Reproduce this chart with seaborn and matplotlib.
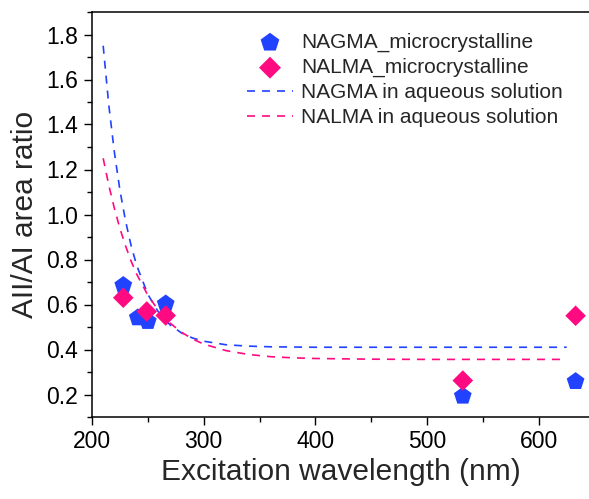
import numpy as np
import matplotlib
matplotlib.use('Agg')
import matplotlib.pyplot as plt
from matplotlib.ticker import MultipleLocator
import pandas as pd
import seaborn as sns

# measured points
nagma_x = [228, 241, 250, 266, 532, 633]
nagma_y = [0.685, 0.541, 0.525, 0.603, 0.193, 0.258]
nalma_x = [228, 249, 266, 532, 633]
nalma_y = [0.630, 0.569, 0.551, 0.262, 0.550]

# fitted curves (aqueous solution)
fit_x = [210, 215, 220, 225, 230, 235, 240, 250, 260, 270, 280, 290, 300, 320, 340, 360, 380, 400, 450, 500, 560, 625]
nagma_fit = [1.750, 1.488, 1.278, 1.108, 0.972, 0.862, 0.774, 0.645, 0.562, 0.509, 0.474, 0.451, 0.437, 0.421, 0.415, 0.412, 0.411, 0.410, 0.410, 0.410, 0.410, 0.410]
nalma_fit = [1.250, 1.131, 1.028, 0.938, 0.861, 0.793, 0.735, 0.641, 0.570, 0.517, 0.477, 0.447, 0.424, 0.395, 0.378, 0.368, 0.363, 0.360, 0.357, 0.356, 0.356, 0.356]

blue = '#2142FF'
pink = '#FF0A80'

sns.set_style('ticks')
plt.rcParams['font.family'] = ['Liberation Sans', 'DejaVu Sans']

fig = plt.figure(figsize=(5.89, 4.99), dpi=100)
ax = fig.add_axes([92/589, 1 - 417/499, (589 - 92)/589, (417 - 12)/499])

d1 = pd.DataFrame({'x': nagma_x, 'y': nagma_y})
d2 = pd.DataFrame({'x': nalma_x, 'y': nalma_y})
f = pd.DataFrame({'x': fit_x, 'a': nagma_fit, 'b': nalma_fit})

sns.scatterplot(data=d1, x='x', y='y', marker='p', s=180, color=blue, edgecolor='none',
                label='NAGMA_microcrystalline', ax=ax, zorder=3)
sns.scatterplot(data=d2, x='x', y='y', marker='D', s=110, color=pink, edgecolor='none',
                label='NALMA_microcrystalline', ax=ax, zorder=4)
sns.lineplot(data=f, x='x', y='a', color=blue, lw=1.2, ax=ax,
             label='NAGMA in aqueous solution')
ax.lines[-1].set_dashes((4.8, 4.2))
sns.lineplot(data=f, x='x', y='b', color=pink, lw=1.2, ax=ax,
             label='NALMA in aqueous solution')
ax.lines[-1].set_dashes((4.8, 4.2))

ax.set_xlim(200, 645)
ax.set_ylim(0.1, 1.9)
ax.xaxis.set_major_locator(MultipleLocator(100))
ax.xaxis.set_minor_locator(MultipleLocator(50))
ax.yaxis.set_minor_locator(MultipleLocator(0.1))
ax.set_yticks(np.arange(0.2, 1.81, 0.2))
ax.tick_params(which='major', direction='out', length=5.5, width=1, labelsize=16.5,
               color='black', labelcolor='black')
ax.tick_params(axis='x', which='major', pad=3.5)
ax.tick_params(axis='y', which='major', pad=4.5)
ax.tick_params(which='minor', direction='out', length=3.5, width=1, color='black')
for side in ['left', 'bottom', 'top']:
    ax.spines[side].set_linewidth(1.1)
    ax.spines[side].set_color('black')
ax.spines['right'].set_visible(False)

ax.set_xlabel('Excitation wavelength (nm)', fontsize=21.5, labelpad=4)
ax.set_ylabel('AII/AI area ratio', fontsize=21.5, labelpad=5)

leg = ax.legend(loc='upper left', bbox_to_anchor=(0.312, 0.948), frameon=False, fontsize=15,
                handlelength=2.2, handletextpad=0.4, labelspacing=0.28, borderaxespad=0, borderpad=0)
leg.legend_handles[0].set_sizes([200])
leg.legend_handles[1].set_sizes([125])

fig.savefig('out.png', dpi=100)
